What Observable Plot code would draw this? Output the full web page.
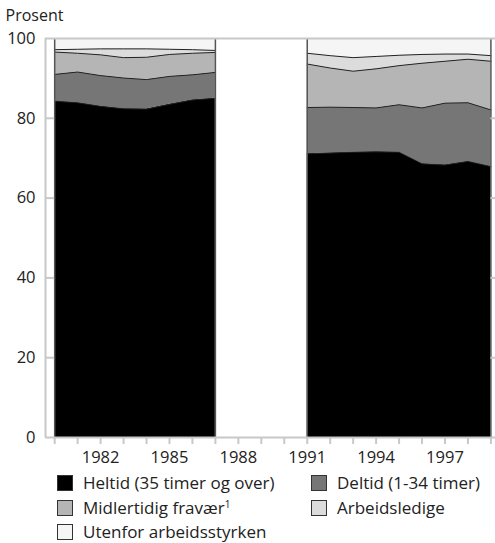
<!DOCTYPE html>
<html><head><meta charset="utf-8">
<script src="https://cdn.jsdelivr.net/npm/d3@7"></script>
<script src="https://cdn.jsdelivr.net/npm/@observablehq/plot@0.6"></script>
<style>
body{margin:0;background:#fff;font-family:"Open Sans",sans-serif;}
#chart{position:relative;width:495px;height:543px;overflow:hidden;}
#chart svg{display:block;}
.legend{position:absolute;left:0;top:470px;width:495px;height:73px;font-size:17px;color:#222;}
.item{position:absolute;display:flex;align-items:center;white-space:nowrap;height:18px;line-height:18px;}
.sw{width:14px;height:14px;border:1px solid #333;margin-right:10px;flex:none;}
sup{font-size:10px;line-height:0;vertical-align:6px;}
</style></head><body><div id="chart"></div>
<script>
const categories = ["Heltid (35 timer og over)", "Deltid (1-34 timer)", "Midlertidig fravær", "Arbeidsledige", "Utenfor arbeidsstyrken"];
const colors = ["#000000", "#767676", "#b5b5b5", "#dcdcdc", "#f5f5f5"];

// Block 1: 1980-1987
const yearsA = [1980, 1981, 1982, 1983, 1984, 1985, 1986, 1987];
const heltidA = [84.3, 83.9, 83.0, 82.4, 82.3, 83.5, 84.6, 85.0];
const deltidA = [6.7, 7.7, 7.7, 7.7, 7.4, 7.0, 6.3, 6.5];
const fravaerA = [5.6, 4.7, 5.2, 5.1, 5.6, 5.5, 5.4, 5.0];
const ledigeA = [0.6, 1.0, 1.5, 2.2, 2.1, 1.3, 0.9, 0.5];
const utenforA = [2.8, 2.7, 2.6, 2.6, 2.6, 2.7, 2.8, 3.0];

// Block 2: 1991-1999
const yearsB = [1991, 1992, 1993, 1994, 1995, 1996, 1997, 1998, 1999];
const heltidB = [71.1, 71.3, 71.5, 71.6, 71.5, 68.6, 68.3, 69.2, 67.9];
const deltidB = [11.6, 11.5, 11.2, 11.0, 11.9, 14.0, 15.5, 14.7, 14.2];
const fravaerB = [10.9, 9.8, 9.1, 9.8, 9.8, 11.2, 10.5, 10.9, 12.2];
const ledigeB = [2.7, 3.1, 3.4, 3.1, 2.6, 2.2, 1.8, 1.3, 1.4];
const utenforB = [3.7, 4.3, 4.8, 4.5, 4.2, 4.0, 3.9, 3.9, 4.3];

const allYears = d3.range(1980, 2000);
const labelYears = [1982, 1985, 1988, 1991, 1994, 1997];
const yTicks = [0, 20, 40, 60, 80, 100];

const blocks = [
  {years: yearsA, series: [heltidA, deltidA, fravaerA, ledigeA, utenforA]},
  {years: yearsB, series: [heltidB, deltidB, fravaerB, ledigeB, utenforB]}
];

const xMin = 1979.6, xMax = 1999.2;

const marks = [];
const edges = [];
blocks.forEach((b, bi) => {
  const rows = [];
  b.years.forEach((yr, i) => categories.forEach((c, j) => rows.push({year: yr, cat: c, value: b.series[j][i]})));
  marks.push(Plot.areaY(rows, {x: "year", y: "value", fill: "cat", order: categories}));
  marks.push(Plot.lineY(rows.filter(d => d.cat !== categories[4]),
    Plot.stackY2({x: "year", y: "value", z: "cat", order: categories, stroke: "#222", strokeWidth: 1})));
  edges.push(b.years[0], b.years[b.years.length - 1]);
});

const plot = Plot.plot({
  width: 495,
  height: 470,
  marginLeft: 45,
  marginRight: 0,
  marginTop: 38,
  marginBottom: 33,
  style: {fontFamily: "'Open Sans', sans-serif", fontSize: "16px", color: "#222", background: "#fff"},
  x: {domain: [xMin, xMax], label: null},
  y: {domain: [0, 100], label: null},
  color: {domain: categories, range: colors},
  marks: [
    ...marks,
    Plot.ruleX(edges, {y1: 0, y2: 100, stroke: "#555", strokeWidth: 1.5}),
    Plot.ruleY([0, 100], {stroke: "#c8c8c8", strokeWidth: 2}),
    Plot.ruleX([xMin], {y1: 0, y2: 100, stroke: "#c8c8c8", strokeWidth: 2}),
    Plot.ruleY(yTicks.slice(1, 5), {x1: xMin, x2: yearsA[0], stroke: "#c8c8c8", strokeWidth: 2}),
    Plot.ruleY(yTicks.slice(1, 5), {x1: yearsB[yearsB.length - 1], x2: xMax, stroke: "#c8c8c8", strokeWidth: 2}),
    Plot.axisX({ticks: allYears, tickSize: 7, tickFormat: () => "", label: null, stroke: "#c8c8c8", strokeWidth: 2}),
    Plot.axisX({ticks: labelYears, tickSize: 0, tickPadding: 14, label: null, tickFormat: d => String(d), fill: "#222", fontSize: 16.5}),
    Plot.axisY({ticks: yTicks, tickSize: 0, tickPadding: 10, label: null, tickFormat: d => String(d), fill: "#222", fontSize: 16.5}),
    Plot.text(["Prosent"], {frameAnchor: "top-left", dx: -40, dy: -23, textAnchor: "start", lineAnchor: "middle", fill: "#222", fontSize: 16})
  ]
});

const chart = document.getElementById("chart");
chart.appendChild(plot);

const legend = document.createElement("div");
legend.className = "legend";
const lefts = [57, 311];
const tops = [3.5, 29, 53];
categories.forEach((c, i) => {
  const it = document.createElement("div");
  it.className = "item";
  it.style.left = lefts[i % 2] + "px";
  it.style.top = tops[Math.floor(i / 2)] + "px";
  const sw = document.createElement("div");
  sw.className = "sw";
  sw.style.background = colors[i];
  it.appendChild(sw);
  const t = document.createElement("span");
  t.textContent = c;
  if (i === 2) { const s = document.createElement("sup"); s.textContent = "1"; t.appendChild(s); }
  it.appendChild(t);
  legend.appendChild(it);
});
chart.appendChild(legend);
</script>
</body></html>
